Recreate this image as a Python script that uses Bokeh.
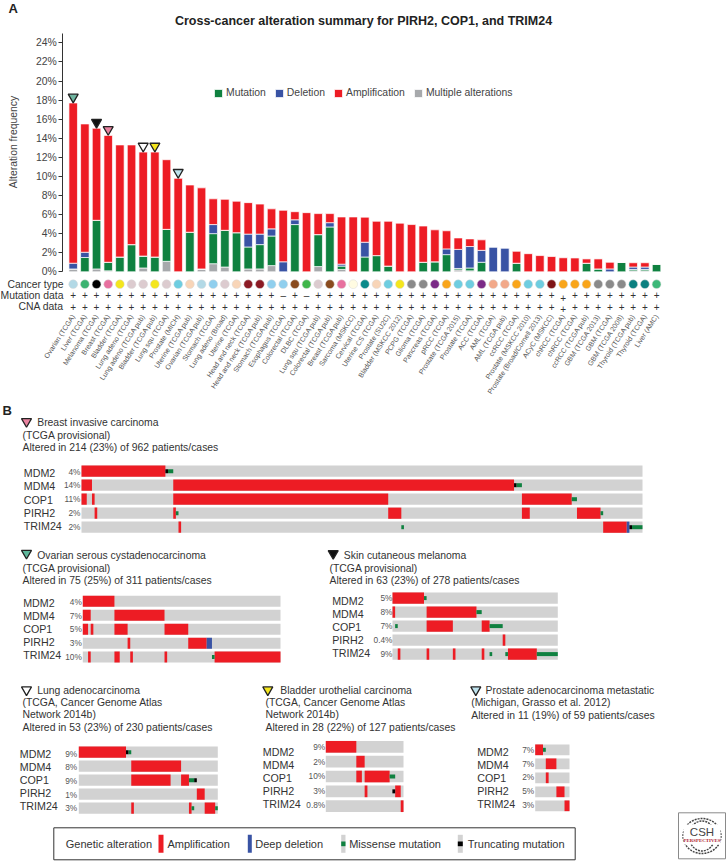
from bokeh.plotting import figure
from bokeh.models import Range1d, LinearAxis, FixedTicker, PrintfTickFormatter, Legend, LegendItem, ColumnDataSource
from bokeh.core.properties import value
from bokeh.embed import file_html
from bokeh.resources import INLINE

W, H = 726, 861
FONT = value("Liberation Sans")

cancer_names = ["Ovarian (TCGA)", "Liver (TCGA)", "Melanoma (TCGA)", "Breast (TCGA)", "Bladder (TCGA)", "Lung adeno (TCGA)",
    "Lung adeno (TCGA pub)", "Bladder (TCGA pub)", "Lung squ (TCGA)", "Prostate (MICH)", "Uterine (TCGA pub)", "Ovarian (TCGA pub)",
    "Stomach (TCGA)", "Lung adeno (Broad)", "Uterine (TCGA)", "Head and neck (TCGA)", "Head and neck (TCGA pub)", "Stomach (TCGA pub)",
    "Esophagus (TCGA)", "Colorectal (TCGA)", "DLBC (TCGA)", "Lung squ (TCGA pub)", "Colorectal (TCGA pub)", "Breast (TCGA pub)",
    "Sarcoma (MSKCC)", "Cervical (TCGA)", "Uterine CS (TCGA)", "Prostate (SU2C)", "Bladder (MSKCC 2012)", "PCPG (TCGA)", "Glioma (TCGA)",
    "Pancreas (TCGA)", "pRCC (TCGA)", "Prostate (TCGA 2015)", "Prostate (TCGA)", "ACC (TCGA)", "AML (TCGA)", "AML (TCGA pub)", "ccRCC (TCGA)",
    "Prostate (MSKCC 2010)", "Prostate (Broad/Cornell 2013)", "ACyC (MSKCC)", "chRCC (TCGA)", "chRCC (TCGA)", "ccRCC (TCGA pub)",
    "GBM (TCGA 2013)", "GBM (TCGA)", "GBM (TCGA 2008)", "Thyroid (TCGA pub)", "Thyroid (TCGA)", "Liver (AMC)"]
multiple_pct = [.3,0,.3,.1,0,0,.4,0,1.1,0,0,.3,.85,.5,0,.3,.3,.65,0,0,0,.55,0,.25,0,0,0,0,0,0,0,0,0,.2,.1,0,0,0,0,0,0,0,0,0,0,0,0,0,.1,.1,0]
mutation_pct = [0,1.5,5.1,.9,1.55,2.85,1.25,1.55,3.35,0,4.15,0,3.15,3.85,4.1,2.3,2.55,3.1,0,4.95,0,3.35,4.7,.35,0,1.55,1.7,.6,0,0,1,1.05,1.8,.15,.3,1,0,0,.9,0,0,0,0,0,.9,.3,0,1,.15,.15,.8]
deletion_pct = [.6,.55,0,0,0,0,0,0,0,0,0,0,.95,0,0,1.35,1.1,.75,1.05,.5,0,0,.45,.2,0,1.55,0,0,0,0,0,0,.6,2,2.25,1.25,2.6,2.5,0,0,0,0,0,0,0,0,.3,0,.25,.25,0]
amplification_pct = [16.8,13.45,9.65,13.3,11.75,10.45,10.9,11,7.3,9.8,4.95,8.5,2.7,3.25,3.3,3.3,3.15,2.1,5.4,.85,6.2,2.2,.95,4.95,5.75,2.63,3.6,4.7,5.1,4.95,3.8,3.35,1.9,1.2,.8,1.1,0,0,1.25,1.9,1.7,1.6,1.47,1.45,.45,1.05,.7,0,.45,.45,0]
cancer_colors = ["#b3d9e6","#3cb371","#000000","#e8709f","#f4e61e","#dccbcf","#dccbcf","#f4e61e","#dccbcf","#6ecde0","#f8d5b8","#b3d9e6","#90cfee","#dccbcf","#f8d5b8","#8c1a24","#8c1a24","#90cfee","#90cfee","#8a4b1e","#3fb64a","#dccbcf","#8a4b1e","#e8709f","#fffbe2","#0b8a8a","#f8d5b8","#6ecde0","#f4e61e","#8a8a8a","#8a8a8a","#7b2a87","#f9a51a","#6ecde0","#6ecde0","#7b2a87","#f2a98a","#f2a98a","#f9a51a","#6ecde0","#6ecde0","#7f1416","#f9a51a","#f9a51a","#f9a51a","#8a8a8a","#8a8a8a","#8a8a8a","#0b8080","#0b8080","#3cb878"]
mutation_marks = ["+"] * 51
mutation_marks[18] = "\u2013"
mutation_marks[20] = "\u2013"
cna_marks = ["+"] * 51
flag_index = [0, 2, 3, 6, 7, 9]
flag_colors = ["#6fb5a0", "#111111", "#e8829f", "#ffffff", "#f4e61e", "#bfe3ee"]

genes = ["MDM2", "MDM4", "COP1", "PIRH2", "TRIM24"]
breast_pct = ["4%", "14%", "11%", "2%", "2%"]
breast_segments = [
    (0,0,32,"amp"),(0,32,33,"trunc"),(0,33,35,"mis"),
    (1,0,4,"amp"),(1,35,165,"amp"),(1,165,166,"trunc"),(1,166,168,"mis"),
    (2,0,2,"amp"),(2,4,5,"amp"),(2,35,117,"amp"),(2,168,187,"amp"),(2,187,189,"mis"),
    (3,5,6,"amp"),(3,35,36,"amp"),(3,36,37,"mis"),(3,117,122,"amp"),(3,168,171,"amp"),(3,189,198,"amp"),(3,198,199,"mis"),
    (4,37,38,"amp"),(4,122,123,"mis"),(4,199,208,"amp"),(4,208,209,"del"),(4,209,210,"trunc"),(4,210,214,"mis")]
ovarian_pct = ["4%", "7%", "5%", "3%", "10%"]
ovarian_segments = [
    (0,0,12,"amp"),(1,0,3,"amp"),(1,12,31,"amp"),
    (2,0,2,"amp"),(2,3,4,"amp"),(2,12,17,"amp"),(2,31,40,"amp"),
    (3,17,18,"amp"),(3,40,47,"amp"),(3,47,49,"del"),
    (4,2,3,"amp"),(4,12,14,"amp"),(4,18,19,"amp"),(4,31,32,"amp"),(4,49,50,"mis"),(4,50,75,"amp")]
melanoma_pct = ["5%", "8%", "7%", "0.4%", "9%"]
melanoma_segments = [
    (0,0,12,"amp"),(0,12,13,"mis"),(1,0,1,"amp"),(1,13,32,"amp"),(1,32,34,"mis"),
    (2,1,2,"mis"),(2,13,23,"amp"),(2,34,37,"amp"),(2,37,42,"mis"),(3,42,43,"amp"),
    (4,2,3,"amp"),(4,13,14,"amp"),(4,23,24,"amp"),(4,34,35,"amp"),(4,37,38,"mis"),(4,43,44,"mis"),(4,44,55,"amp"),(4,55,63,"mis")]
lung_pct = ["9%", "8%", "9%", "1%", "3%"]
lung_segments = [
    (0,0,18,"amp"),(0,18,19,"trunc"),(0,19,20,"mis"),(1,20,39,"amp"),
    (2,20,35,"amp"),(2,39,42,"amp"),(2,42,44,"mis"),(2,44,45,"trunc"),(3,45,48,"amp"),
    (4,20,21,"amp"),(4,42,43,"amp"),(4,43,44,"mis"),(4,48,52,"amp"),(4,52,53,"mis")]
bladder_pct = ["9%", "2%", "10%", "3%", "0.8%"]
bladder_segments = [
    (0,0,11,"amp"),(1,11,14,"amp"),(2,11,13,"amp"),(2,14,23,"amp"),(2,23,25,"mis"),
    (3,14,15,"amp"),(3,24,25,"trunc"),(3,25,27,"amp"),(4,27,28,"amp")]
prostate_pct = ["7%", "7%", "2%", "5%", "3%"]
prostate_segments = [
    (0,0,2.5,"amp"),(0,2.5,3.4,"mis"),(1,3.4,6.8,"amp"),(2,3.4,4.3,"amp"),(3,6.8,9.4,"amp"),(4,9.4,11,"amp")]

RED, BLUE, GREEN, GREY, TRACK = "#ed1c24", "#3953a4", "#0f8140", "#a7a9ac", "#d2d2d2"
SEG_COLOR = {"amp": RED, "del": BLUE, "mis": GREEN, "trunc": "#000000"}
INK = "#333333"

p = figure(width=W, height=H, x_range=Range1d(0, W), y_range=Range1d(H, 0), x_axis_type=None, y_axis_type=None,
           output_backend="svg", toolbar_location=None, min_border=0, outline_line_color=None,
           background_fill_color="#ffffff", border_fill_color="#ffffff")
p.styles = {"position": "absolute", "left": "0px", "top": "0px"}


def txt(x, y, s, size=10.4, color=INK, align="left", style="normal", angle=0, font=FONT, **kw):
    p.text([x], [y], text=[s], text_font=font, text_font_size=f"{size}px", text_color=color, text_align=align,
           text_baseline="middle", text_font_style=style, angle=angle, **kw)


# ---------- Panel A ----------
bar_x0, bar_pitch = 72.7, 11.667
pct_y0, pct_scale = 271.3, 9.54
p.extra_x_ranges["cancer"] = Range1d(-bar_x0 / bar_pitch, (W - bar_x0) / bar_pitch)
p.extra_y_ranges["pct"] = Range1d((pct_y0 - H) / pct_scale, pct_y0 / pct_scale)
idx = list(range(len(cancer_names)))
src = ColumnDataSource(dict(x=idx, Multiple=multiple_pct, Mutation=mutation_pct, Deletion=deletion_pct,
                            Amplification=amplification_pct))
stack = p.vbar_stack(["Multiple", "Mutation", "Deletion", "Amplification"], x="x", width=0.73, source=src,
                     color=[GREY, GREEN, BLUE, RED], line_color="#ffffff", line_width=0.7,
                     x_range_name="cancer", y_range_name="pct")

axis = LinearAxis(y_range_name="pct", fixed_location=62.3, bounds=(0, 25), ticker=FixedTicker(ticks=list(range(0, 25, 2))),
                  formatter=PrintfTickFormatter(format="%d%%"), major_tick_in=0, major_tick_out=4, minor_tick_in=0, minor_tick_out=0,
                  axis_line_color=INK, major_tick_line_color=INK, major_label_text_color="#444444",
                  major_label_text_font="Liberation Sans", major_label_text_font_size="10.4px", major_label_standoff=2)
p.add_layout(axis, "left")

legend = Legend(items=[LegendItem(label="Mutation", renderers=[stack[1]]), LegendItem(label="Deletion", renderers=[stack[2]]),
                       LegendItem(label="Amplification", renderers=[stack[3]]), LegendItem(label="Multiple alterations", renderers=[stack[0]])],
                orientation="horizontal", location=(213, H - 98), padding=0, margin=0, spacing=8, label_standoff=3,
                glyph_width=10, glyph_height=10, label_height=10, label_width=10, border_line_color=None, background_fill_alpha=0,
                label_text_font="Liberation Sans", label_text_font_size="10.4px", label_text_color="#444444")
p.add_layout(legend, "center")

flag_y = [multiple_pct[i] + mutation_pct[i] + deletion_pct[i] + amplification_pct[i] + 0.62 for i in flag_index]
p.scatter(flag_index, flag_y, marker="inverted_triangle", size=10, fill_color=flag_colors, line_color="#222222", line_width=1.3,
          x_range_name="cancer", y_range_name="pct")

p.scatter(idx, [-1.3] * 51, marker="circle", size=8.8, fill_color=cancer_colors, line_color="#d8d8d8", line_width=0.5,
          x_range_name="cancer", y_range_name="pct")
# one column (chRCC) sits slightly lower in the reference
mut_y = [-2.45] * 51
cna_y = [-3.64] * 51
mut_y[42] = -2.7
cna_y[42] = -3.85
p.text(idx, mut_y, text=mutation_marks, text_font=FONT, text_font_size="10px", text_color=INK, text_align="center",
       text_baseline="middle", x_range_name="cancer", y_range_name="pct")
p.text(idx, cna_y, text=cna_marks, text_font=FONT, text_font_size="10px", text_color=INK, text_align="center",
       text_baseline="middle", x_range_name="cancer", y_range_name="pct")
p.text(idx, [-4.55] * 51, text=cancer_names, text_font=FONT, text_font_size="7px", text_color="#555555", text_align="right",
       text_baseline="middle", angle=57, angle_units="deg", x_range_name="cancer", y_range_name="pct")

txt(8, 8, "A", 13, "#222222", style="bold")
txt(363, 20, "Cross-cancer alteration summary for PIRH2, COP1, and TRIM24", 12.5, "#222222", "center", "bold")
txt(13, 141.5, "Alteration frequency", 10.4, "#444444", "center", angle=1.5708)
txt(63, 283.7, "Cancer type", 10.4, align="right")
txt(63, 294.7, "Mutation data", 10.4, align="right")
txt(63, 306, "CNA data", 10.4, align="right")

# ---------- Panel B ----------
txt(2, 410, "B", 13, "#222222", style="bold")


def panel(key, n, x0, x1, yc0, pitch, row_h, segments, pcts, flag_xy, flag_color, title, title_x, title_y, lines, lines_x, lines_y,
          line_dy, gene_x, gene_y, gene_dy, pct_x, pct_y, pct_dy):
    k = (x1 - x0) / n
    p.extra_x_ranges[key] = Range1d(-x0 / k, (W - x0) / k)
    p.extra_y_ranges[key] = Range1d((H - yc0) / pitch, -yc0 / pitch)
    names = dict(x_range_name=key, y_range_name=key)
    rows = list(range(len(genes)))
    p.hbar(y=rows, left=[0] * 5, right=[n] * 5, height=row_h / pitch, color=TRACK, line_color=None, **names)
    for kinds, h in ((("amp", "del"), row_h), (("mis", "trunc"), 4.0)):
        s = [g for g in segments if g[3] in kinds]
        p.hbar(y=[g[0] for g in s], left=[g[1] for g in s], right=[g[2] for g in s], height=h / pitch,
               color=[SEG_COLOR[g[3]] for g in s], line_color=None, **names)
    p.scatter([flag_xy[0]], [flag_xy[1]], marker="inverted_triangle", size=10, fill_color=flag_color, line_color="#222222", line_width=1.3)
    txt(title_x, title_y, title, 10.4)
    for i, line in enumerate(lines):
        txt(lines_x, lines_y + i * line_dy, line, 10.4)
    for i, g in enumerate(genes):
        txt(gene_x, gene_y + i * gene_dy, g, 10.7)
        txt(pct_x, pct_y + i * pct_dy, pcts[i], 8.3, "#555555", "right")


panel("breast", 214, 81, 642, 470.7, 14, 11.2, breast_segments, breast_pct, (26, 421), "#e8829f", "Breast invasive carcinoma", 36.7, 422,
      ["(TCGA provisional)", "Altered in 214 (23%) of 962 patients/cases"], 22, 434.7, 12.4, 23.3, 472.7, 13.2, 80, 471, 13.8)
panel("ovarian", 75, 82.3, 280, 600.8, 13.95, 11, ovarian_segments, ovarian_pct, (26, 552.7), "#5fb89c", "Ovarian serous cystadenocarcinoma", 36.7, 555.3,
      ["(TCGA provisional)", "Altered in 75 (25%) of 311 patients/cases"], 22, 567.7, 12.4, 22.7, 602.7, 13, 81.3, 601.3, 13.8)
panel("melanoma", 63, 392, 557.3, 597.6, 14, 11.3, melanoma_segments, melanoma_pct, (332.7, 553), "#111111", "Skin cutaneous melanoma", 343.3, 555.3,
      ["(TCGA provisional)", "Altered in 63 (23%) of 278 patients/cases"], 329, 567.7, 12.4, 331.7, 600.3, 13, 392, 597.3, 14)
panel("lung", 53, 78.3, 217.3, 751.7, 14, 11.3, lung_segments, lung_pct, (26, 689.3), "#ffffff", "Lung adenocarcinoma", 36.7, 690,
      ["(TCGA, Cancer Genome Atlas", "Network 2014b)", "Altered in 53 (23%) of 230 patients/cases"], 22, 702, 12.4, 19.3, 753.3, 13, 76.7, 753, 13.7)
panel("bladder", 28, 325.3, 403, 746.3, 14.85, 11.7, bladder_segments, bladder_pct, (267.3, 689.3), "#f4e61e", "Bladder urothelial carcinoma", 279.7, 690,
      ["(TCGA, Cancer Genome Atlas", "Network 2014b)", "Altered in 28 (22%) of 127 patients/cases"], 265, 702, 12.4, 262.3, 751.7, 13, 324.7, 746.7, 14.5)
panel("prostate", 11, 534.7, 569, 749.3, 14, 10.7, prostate_segments, prostate_pct, (475.3, 689.3), "#bfe3ee", "Prostate adenocarcinoma metastatic", 485, 690,
      ["(Michigan, Grasso et al. 2012)", "Altered in 11 (19%) of 59 patients/cases"], 470.7, 702.3, 12.4, 476.7, 751.7, 13, 533.7, 749.3, 13.7)

# Bottom legend box
p.quad(left=[53.3], right=[574.7], top=[827.3], bottom=[859.3], fill_color=None, line_color="#333333", line_width=1)
p.quad(left=[158, 247.3, 340.7, 457.3], right=[163, 251.3, 345, 462.3], top=[834.3] * 4, bottom=[852.3] * 4,
       fill_color=[RED, BLUE, TRACK, TRACK], line_color=None)
p.quad(left=[340.7, 457.3], right=[345, 462.3], top=[841] * 2, bottom=[845.7] * 2, fill_color=[GREEN, "#000000"], line_color=None)
for x, s in ((65.3, "Genetic alteration"), (167, "Amplification"), (254.7, "Deep deletion"), (348.7, "Missense mutation"), (467.3, "Truncating mutation")):
    txt(x, 843.3, s, 11)

# Logo
p.quad(left=[678], right=[725], top=[812.3], bottom=[858.3], fill_color="#ffffff", line_color="#8a8a8a", line_width=1)
p.ellipse([701.5, 701.5], [835.5, 835.5], width=[38, 26], height=[35, 30], fill_color=None, line_color="#444444", line_width=1.4, line_dash="2 1")
p.quad(left=[683], right=[720], top=[824], bottom=[844], fill_color="#ffffff", line_color=None)
txt(701.5, 831, "CSH", 11.5, "#444444", "center")
txt(701.5, 840.3, "PERSPECTIVES", 4.9, "#b01c2e", "center", "bold", font=value("Liberation Serif"))

open("out.html", "w").write(file_html(p, INLINE))
